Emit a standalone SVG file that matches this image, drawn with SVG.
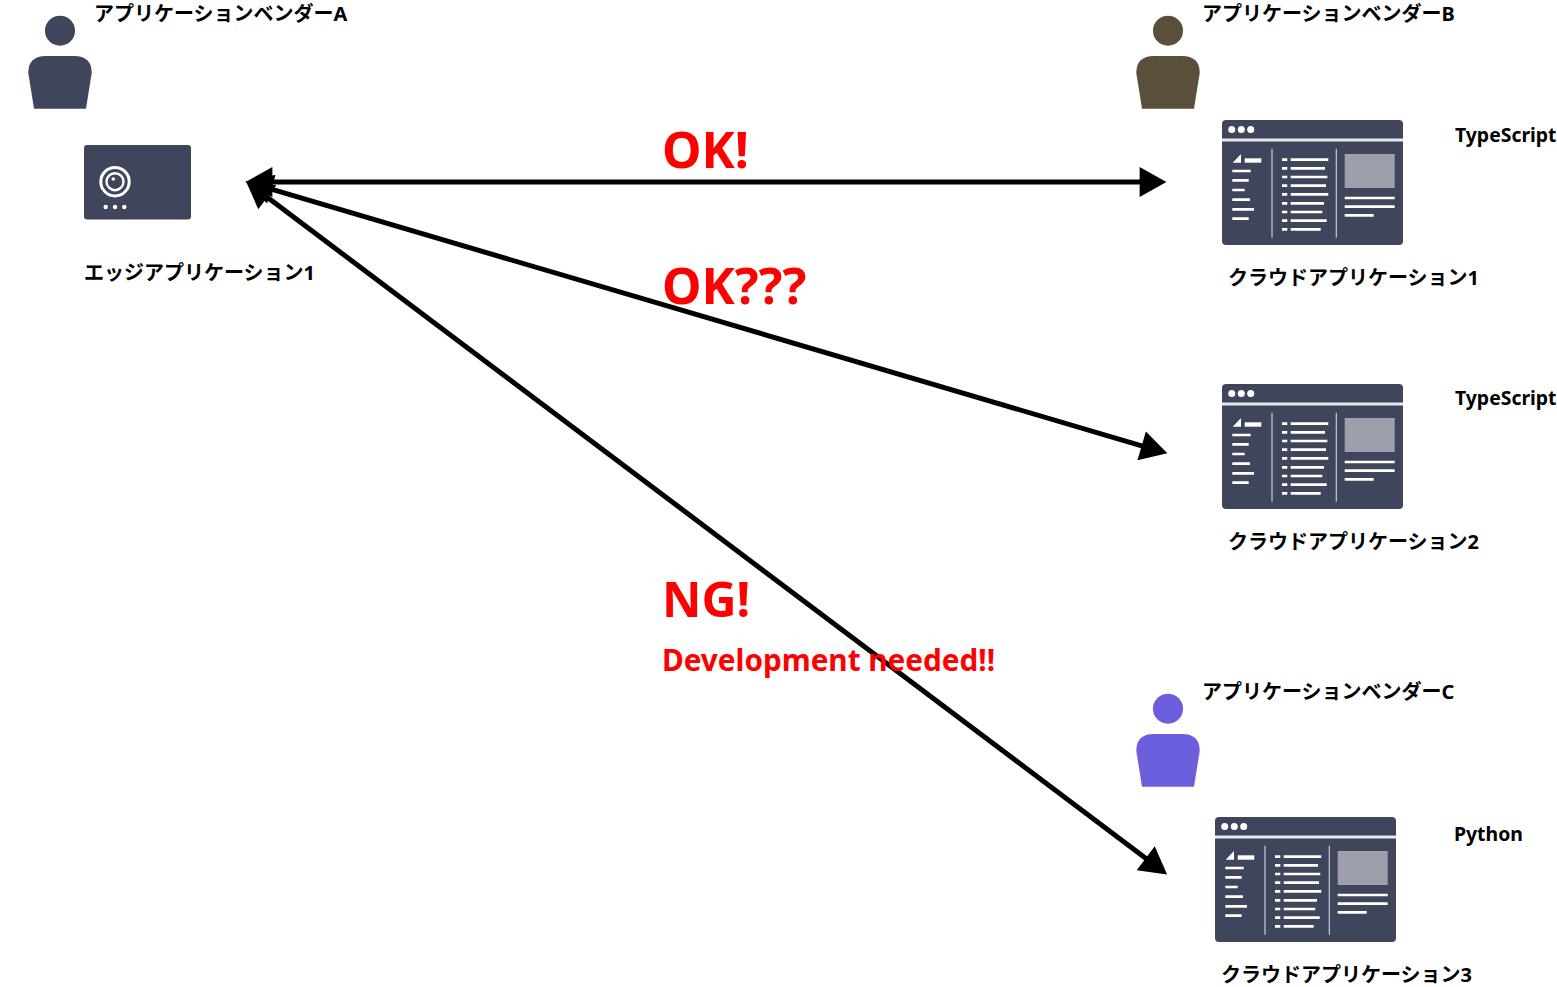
<svg xmlns="http://www.w3.org/2000/svg" width="1557" height="987" viewBox="0 0 1557 987">
<style>
text{font-family:"Noto Sans","Noto Sans CJK JP",sans-serif;font-weight:700}
.lb{font-size:20px;fill:#000}
.lt{font-size:19.400px;fill:#000}
.big{font-size:50px;fill:#f00}
.ng{font-size:48.500px;fill:#f00}
.sub{font-size:29.700px;fill:#f00}
.cn{fill:none;stroke:#000;stroke-width:5}
.w{fill:#fff}
.wl{stroke:#fff;stroke-width:2.7;fill:none}
</style>
<defs>
<marker id="ah" markerUnits="userSpaceOnUse" markerWidth="30" markerHeight="30" viewBox="0 0 25 28" refX="5" refY="14" orient="auto-start-reverse"><path d="M0 0L25 14L0 28Z" fill="#000"/></marker>
<path id="person" d="M34 108.700L28.300 73Q28.300 56 46 56H74Q91.700 56 91.700 73L86 108.700Z"/>
<g id="win">
<rect width="181" height="125" rx="4" fill="#3f465c"/>
<rect y="18.500" width="181" height="3" fill="#e8e9ee"/>
<circle class="w" cx="9.700" cy="9.500" r="3.500"/><circle class="w" cx="19.300" cy="9.500" r="3.500"/><circle class="w" cx="28.700" cy="9.500" r="3.500"/>
<path class="w" d="M10.700 42.700L19 34V42.700Z"/>
<rect class="w" x="22.700" y="38.300" width="16.600" height="4.400"/>
<path class="wl" d="M10.300 51H28.700M10.300 60.300H26.700M10.300 70H22.700M10.300 79.700H28M10.300 89.300H32M10.300 98.700H26.700"/>
<path d="M50 28.700V117.700M114.300 28.700V117.700" fill="none" stroke="#c9cbd4" stroke-width="1.200"/>
<path class="wl" d="M60 39.700H65.300M60 48.300H65.300M60 57H65.300M60 65.700H65.300M60 74.300H65.300M60 83.300H65.300M60 92H65.300M60 100.700H65.300M60 109.300H65.300"/>
<path class="wl" d="M68.700 39.700H106.300M68.700 48.300H103M68.700 57H105.300M68.700 65.700H104M68.700 74.300H106.300M68.700 83.300H102M68.700 92H100.300M68.700 100.700H104.700M68.700 109.300H98.700"/>
<rect x="122.700" y="34" width="50" height="34" fill="#9d9fac"/>
<path class="wl" d="M122.700 78H172.700M122.700 86.700H172.700M122.700 95.300H151.700"/>
</g>
</defs>
<g id="connectors">
<path class="cn" d="M267 182H1145" marker-start="url(#ah)" marker-end="url(#ah)"/>
<path class="cn" d="M266.200 187.700L1146.800 447.300" marker-start="url(#ah)" marker-end="url(#ah)"/>
<path class="cn" d="M263 194L1150 861.500" marker-start="url(#ah)" marker-end="url(#ah)"/>
</g>
<g id="vendor-a"><circle cx="60" cy="30.700" r="15" fill="#3f465c"/><use href="#person" fill="#3f465c"/><text class="lb" x="94" y="21">アプリケーションベンダーA</text></g>
<g id="vendor-b"><circle cx="1168" cy="30.700" r="15" fill="#5a4f3b"/><use href="#person" x="1108" fill="#5a4f3b"/><text class="lb" x="1202" y="21">アプリケーションベンダーB</text></g>
<g id="vendor-c"><circle cx="1168" cy="708.700" r="15" fill="#6b5fdd"/><use href="#person" x="1108" y="678" fill="#6b5fdd"/><text class="lb" x="1202" y="699">アプリケーションベンダーC</text></g>
<g id="edge-app">
<rect x="84" y="145" width="107" height="74.500" rx="3" fill="#3f465c"/>
<circle cx="115" cy="181.700" r="14.200" fill="none" stroke="#fff" stroke-width="3"/>
<circle cx="115" cy="181.700" r="8.500" fill="none" stroke="#fff" stroke-width="2.400"/>
<circle class="w" cx="113.300" cy="179" r="1.800"/>
<circle class="w" cx="105.700" cy="207" r="2.200"/><circle class="w" cx="115" cy="207" r="2.200"/><circle class="w" cx="124.300" cy="207" r="2.200"/>
<text class="lb" x="84" y="280">エッジアプリケーション1</text>
</g>
<g id="cloud-1"><use href="#win" x="1222" y="120"/><text class="lb" x="1228" y="285">クラウドアプリケーション1</text><text class="lt" x="1455" y="142">TypeScript</text></g>
<g id="cloud-2"><use href="#win" x="1222" y="384"/><text class="lb" x="1228" y="549">クラウドアプリケーション2</text><text class="lt" x="1455" y="405">TypeScript</text></g>
<g id="cloud-3"><use href="#win" x="1215" y="817"/><text class="lb" x="1221" y="982">クラウドアプリケーション3</text><text class="lt" x="1454" y="841">Python</text></g>
<g id="labels">
<text class="big" x="662" y="168">OK!</text>
<text class="big" x="662" y="304">OK???</text>
<text class="ng" x="662" y="616.500">NG!</text>
<text class="sub" x="662" y="670.500">Development needed!!</text>
</g>
</svg>
